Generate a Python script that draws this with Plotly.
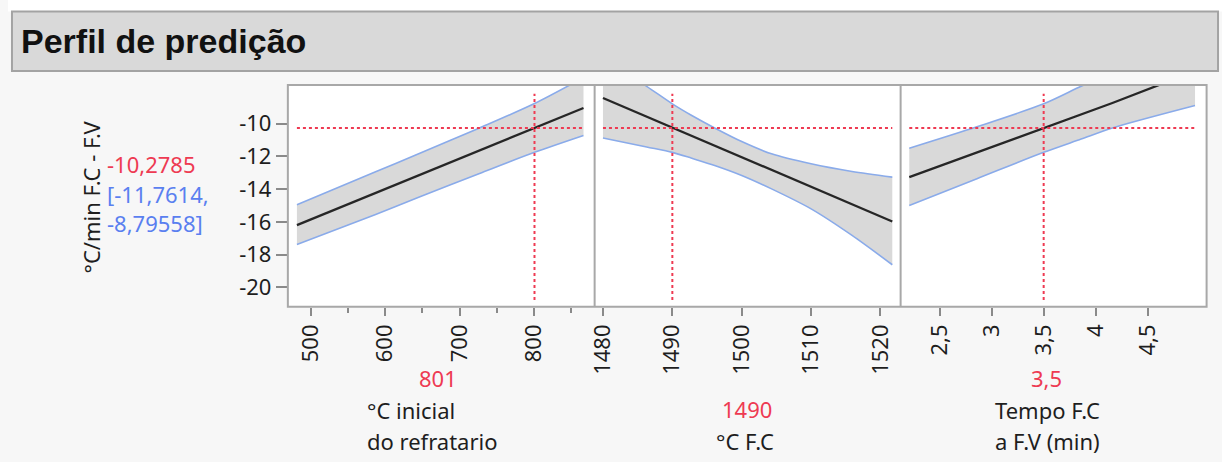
import plotly.graph_objects as go

# ---------------- data ----------------
y_tick_vals = [-10, -12, -14, -16, -18, -20]
y_tick_text = ["-10", "-12", "-14", "-16", "-18", "-20"]

pred_value = -10.2785
pred_lo = -11.7614
pred_hi = -8.79558

# panel 1: °C inicial do refratario
p1_x = [481, 587, 645, 727, 801, 867]
p1_center = [-16.2, -14.24, -13.16, -11.64, -10.27, -9.05]
p1_upper = [-14.96, -12.95, -11.85, -10.27, -8.78, -7.2]
p1_lower = [-17.38, -15.55, -14.5, -13.05, -11.76, -10.73]
p1_current = 801
p1_ticks = [500, 600, 700, 800]
p1_ticktext = ["500", "600", "700", "800"]
p1_minor = [550, 650, 750, 850]

# panel 2: °C F.C
p2_x = [1480, 1486.3, 1490, 1492.8, 1496.1, 1500, 1504.3, 1510, 1515.9, 1521.7]
p2_center = [-8.44, -9.58, -10.27, -10.75, -11.35, -12.06, -12.83, -13.86, -14.93, -15.98]
p2_upper = [-6.0, -7.73, -8.80, -9.51, -10.27, -11.10, -11.85, -12.46, -12.93, -13.27]
p2_lower = [-10.88, -11.43, -11.76, -12.12, -12.56, -13.17, -13.99, -15.21, -16.83, -18.62]
p2_current = 1490
p2_ticks = [1480, 1490, 1500, 1510, 1520]
p2_ticktext = ["1480", "1490", "1500", "1510", "1520"]

# panel 3: Tempo F.C a F.V (min)
p3_x = [2.209, 2.859, 3.5, 3.86, 4.16, 4.954]
p3_center = [-13.27, -11.76, -10.28, -9.44, -8.75, -6.8]
p3_upper = [-11.51, -10.2, -8.80, -7.73, -6.9, -4.8]
p3_lower = [-15.0, -13.37, -11.76, -10.95, -10.27, -8.90]
p3_current = 3.5
p3_ticks = [2.5, 3, 3.5, 4, 4.5]
p3_ticktext = ["2,5", "3", "3,5", "4", "4,5"]

current_text = ["801", "1490", "3,5"]
factor_names = [["°C inicial", "do refratario"], ["°C F.C"], ["Tempo F.C", "a F.V (min)"]]
y_title = "°C/min F.C - F.V"
title = "Perfil de predição"

# ---------------- layout helpers ----------------
W, H = 1222, 462
def px(x):
    return x / W
def py(y):
    return 1 - y / H

Y_RANGE = [-21.18, -7.65]
x_ranges = [[468.8, 882.0], [1478.8, 1522.9], [2.126, 5.065]]
edges = [281.7, 590.5, 898.5, 1206.5]
x_domains = [[px(edges[0]), px(edges[1])], [px(edges[1]), px(edges[2])], [px(edges[2]), px(edges[3])]]
top_px, bot_px = 85.0, 306.7
y_domain = [py(bot_px), py(top_px)]

RED = "#ee3a52"
BLUE_TXT = "#5a7ff0"
BAND = "#d9d9d9"
EDGE = "#8aabea"
AXC = "#a8a8a8"
TXT = "#1e1e1e"
FONT = "Noto Sans"

fig = go.Figure()

panels = [
    (p1_x, p1_center, p1_upper, p1_lower, p1_current, p1_ticks, p1_ticktext),
    (p2_x, p2_center, p2_upper, p2_lower, p2_current, p2_ticks, p2_ticktext),
    (p3_x, p3_center, p3_upper, p3_lower, p3_current, p3_ticks, p3_ticktext),
]

shapes = []
# white strip above title bar, title bar
shapes.append(dict(type="rect", xref="paper", yref="paper", x0=0, x1=1,
                   y0=py(11.5), y1=1, fillcolor="white", line=dict(width=0), layer="below"))
shapes.append(dict(type="rect", xref="paper", yref="paper", x0=px(4), x1=px(1218),
                   y0=py(71), y1=py(11.5), fillcolor="#d9d9d9",
                   line=dict(color="#a3a3a3", width=2), layer="below"))

for i, (xs, cen, up, lo, cur, tv, tt) in enumerate(panels):
    xa = "x" if i == 0 else f"x{i+1}"
    ya = "y" if i == 0 else f"y{i+1}"
    fig.add_trace(go.Scatter(x=xs, y=lo, mode="lines",
                             line=dict(color=EDGE, width=1.6, shape="spline", smoothing=0.8),
                             xaxis=xa, yaxis=ya, showlegend=False, hoverinfo="skip"))
    fig.add_trace(go.Scatter(x=xs, y=up, mode="lines",
                             line=dict(color=EDGE, width=1.6, shape="spline", smoothing=0.8),
                             fill="tonexty", fillcolor=BAND,
                             xaxis=xa, yaxis=ya, showlegend=False, hoverinfo="skip"))
    fig.add_trace(go.Scatter(x=xs, y=cen, mode="lines", line=dict(color="#262626", width=2.3),
                             xaxis=xa, yaxis=ya, showlegend=False))
    # crosshair
    shapes.append(dict(type="line", xref=xa, yref=ya, x0=xs[0], x1=xs[-1],
                       y0=pred_value, y1=pred_value, layer="above",
                       line=dict(color=RED, width=2, dash="dot")))
    span = Y_RANGE[1] - Y_RANGE[0]
    shapes.append(dict(type="line", xref=xa, yref=ya, x0=cur, x1=cur,
                       y0=Y_RANGE[0] + 0.03 * span, y1=Y_RANGE[1] - 0.04 * span, layer="above",
                       line=dict(color=RED, width=2, dash="dot")))

    xkey = "xaxis" if i == 0 else f"xaxis{i+1}"
    ykey = "yaxis" if i == 0 else f"yaxis{i+1}"
    xaxis = dict(domain=x_domains[i], range=x_ranges[i], anchor=ya,
                 showgrid=False, zeroline=False, showline=False,
                 tickmode="array", tickvals=tv, ticktext=tt, tickangle=-90,
                 ticks="outside", ticklen=8, tickcolor="#8a8a8a", tickwidth=1.5,
                 tickfont=dict(family=FONT, size=22, color=TXT))
    if i == 0:
        xaxis["minor"] = dict(tickmode="array", tickvals=p1_minor, ticks="outside",
                              ticklen=5, tickcolor="#8a8a8a", tickwidth=1.5, showgrid=False)
    yaxis = dict(domain=y_domain, range=Y_RANGE, anchor=xa,
                 showgrid=False, zeroline=False, showline=False)
    if i == 0:
        yaxis.update(tickmode="array", tickvals=y_tick_vals, ticktext=y_tick_text,
                     ticks="outside", ticklen=11, tickcolor="#8a8a8a", tickwidth=1.5,
                     tickfont=dict(family=FONT, size=22, color=TXT))
    else:
        yaxis.update(showticklabels=False, ticks="")
    fig.update_layout({xkey: xaxis, ykey: yaxis})

# panel frames
shapes.append(dict(type="rect", xref="paper", yref="paper", x0=px(edges[0]), x1=px(edges[3]),
                   y0=py(bot_px), y1=py(top_px), line=dict(color=AXC, width=2), layer="above"))
for e in edges[1:3]:
    shapes.append(dict(type="line", xref="paper", yref="paper", x0=px(e), x1=px(e),
                       y0=py(bot_px), y1=py(top_px), line=dict(color=AXC, width=2), layer="above"))

annotations = []
def ann(text, x, y, color=TXT, size=22, xanchor="center", yanchor="middle", angle=0, family=FONT):
    annotations.append(dict(text=text, x=px(x), y=py(y), xref="paper", yref="paper",
                            showarrow=False, xanchor=xanchor, yanchor=yanchor, textangle=angle,
                            borderpad=0, font=dict(family=family, size=size, color=color)))

ann("<b>" + title + "</b>", 12, 41, size=34, xanchor="left", family="Liberation Sans, Arial", color="#111111")
ann(y_title, 84, 197, size=22, angle=-90)
ann(f"{pred_value:.4f}".replace(".", ","), 99, 164, color=RED, xanchor="left")
ann("[" + f"{pred_lo:.4f}".replace(".", ",") + ",", 99, 194, color=BLUE_TXT, xanchor="left")
ann(f"{pred_hi:.5f}".replace(".", ",") + "]", 99, 223, color=BLUE_TXT, xanchor="left")

ann(current_text[0], 433, 378, color=RED)
ann(factor_names[0][0], 360, 410, xanchor="left")
ann(factor_names[0][1], 360, 441, xanchor="left")
ann(current_text[1], 744, 409, color=RED)
ann(factor_names[1][0], 742, 441)
ann(current_text[2], 1045, 378, color=RED)
ann(factor_names[2][0], 992, 410, xanchor="left")
ann(factor_names[2][1], 992, 441, xanchor="left")

fig.update_layout(width=W, height=H, margin=dict(l=0, r=0, t=0, b=0),
                  paper_bgcolor="#f7f7f7", plot_bgcolor="white",
                  shapes=shapes, annotations=annotations, showlegend=False)

fig.write_html("out.html", config={"displayModeBar": False},
               post_script="document.body.style.margin='0';document.body.style.overflow='hidden';")
